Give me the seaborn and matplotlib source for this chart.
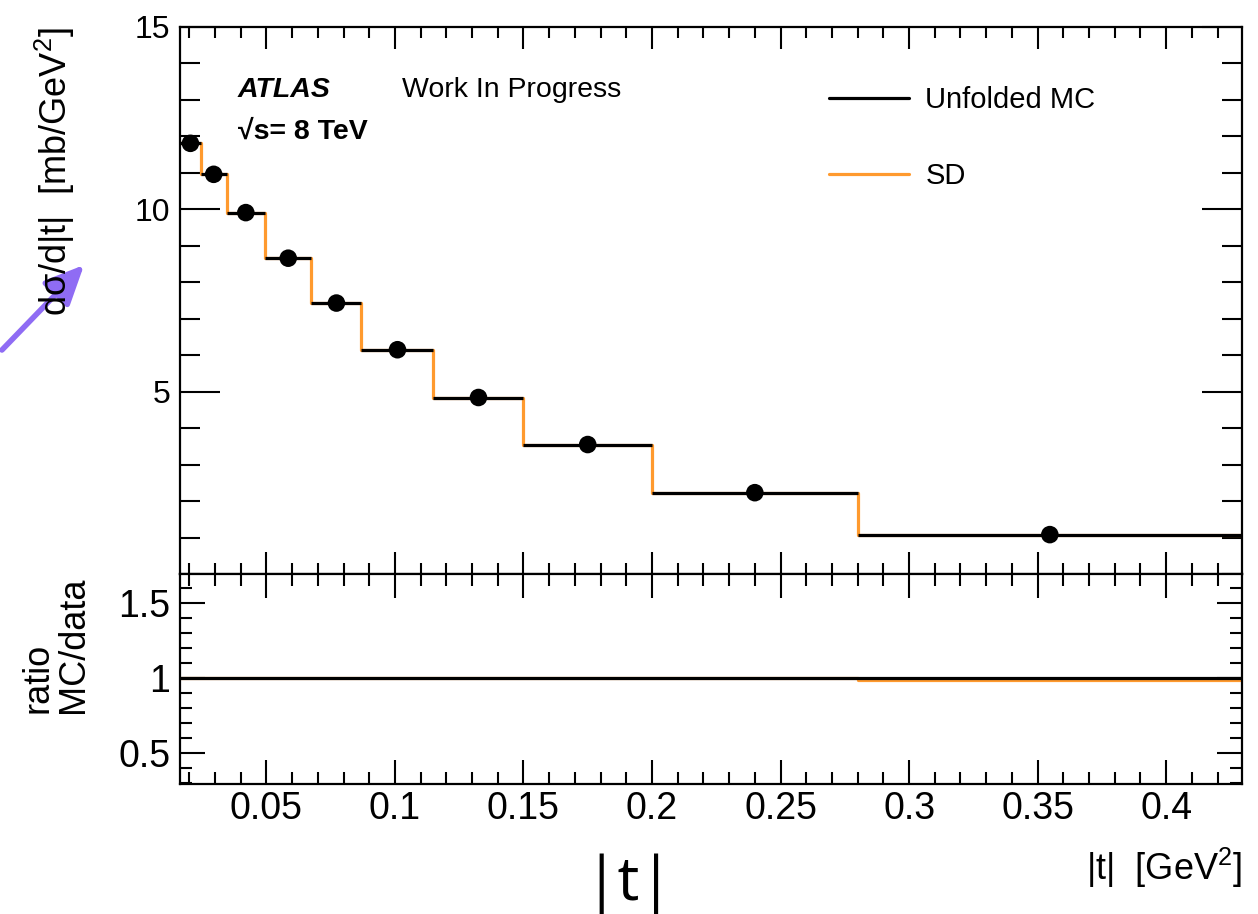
import numpy as np
import pandas as pd
import matplotlib
matplotlib.use("Agg")
import matplotlib.pyplot as plt
from matplotlib.ticker import MultipleLocator, FixedLocator, FuncFormatter
from matplotlib.lines import Line2D
import seaborn as sns

# ---------------- data ----------------
bin_edges = [0.0164, 0.0245, 0.0345, 0.0495, 0.0675, 0.087, 0.115, 0.15, 0.20, 0.28, 0.4295]
data_values = [11.81, 10.96, 9.91, 8.66, 7.43, 6.15, 4.84, 3.55, 2.23, 1.08]
mc_values = [11.81, 10.96, 9.91, 8.66, 7.43, 6.15, 4.84, 3.55, 2.23, 1.08]
sd_values = [11.81, 10.96, 9.91, 8.66, 7.43, 6.15, 4.84, 3.55, 2.23, 1.07]
mc_ratio = [1.0, 1.0, 1.0, 1.0, 1.0, 1.0, 1.0, 1.0, 1.0, 1.0]
sd_ratio = [1.0, 1.0, 1.0, 1.0, 1.0, 1.0, 1.0, 1.0, 1.0, 0.985]
legend_labels = ["Unfolded MC", "SD"]

edges = np.array(bin_edges)
centers = 0.5 * (edges[:-1] + edges[1:])
df = pd.DataFrame({"t": centers, "data": data_values, "mc": mc_values, "sd": sd_values,
                   "mc_ratio": mc_ratio, "sd_ratio": sd_ratio})

sns.set_theme(style="white")
plt.rcParams["font.family"] = ["Liberation Sans", "DejaVu Sans"]
plt.rcParams["mathtext.fontset"] = "custom"
plt.rcParams["mathtext.rm"] = "Liberation Sans"
plt.rcParams["mathtext.it"] = "Liberation Sans:italic"
plt.rcParams["mathtext.bf"] = "Liberation Sans:bold"
plt.rcParams["text.color"] = "black"
plt.rcParams["axes.labelcolor"] = "black"
plt.rcParams["xtick.color"] = "black"
plt.rcParams["ytick.color"] = "black"
plt.rcParams["xtick.labelcolor"] = "black"
plt.rcParams["ytick.labelcolor"] = "black"

W, H = 1258, 914
fig = plt.figure(figsize=(W / 100, H / 100), dpi=100)

def fx(px):
    return px / W

def fy(py):
    return 1 - py / H

left, right = 180, 1242
top, mid, bot = 27, 574, 784
ax = fig.add_axes([fx(left), fy(mid), fx(right - left), fy(top) - fy(mid)])
axr = fig.add_axes([fx(left), fy(bot), fx(right - left), fy(mid) - fy(bot)])

ORANGE = "#ff9a2e"
LW = 2.3

# ---------------- upper panel ----------------
sns.histplot(data=df, x="t", weights="sd", bins=list(bin_edges), element="step", fill=False,
             color=ORANGE, linewidth=LW, ax=ax)
ax.hlines(mc_values, edges[:-1], edges[1:], color="black", linewidth=LW, zorder=3)
sns.scatterplot(data=df, x="t", y="data", color="black", s=160, edgecolor="none",
                ax=ax, zorder=4)

ax.set_xlim(edges[0], edges[-1])
ax.set_ylim(0, 15)
ax.yaxis.set_major_locator(FixedLocator([5, 10, 15]))
ax.yaxis.set_minor_locator(MultipleLocator(1))
ax.xaxis.set_major_locator(MultipleLocator(0.05))
ax.xaxis.set_minor_locator(MultipleLocator(0.01))
ax.set_xlabel("")
ax.set_ylabel("")
ax.tick_params(axis="x", which="both", labelbottom=False)
ax.tick_params(which="both", direction="in", top=True, right=True, bottom=True, left=True,
               width=1.5, color="black", labelcolor="black")
ax.tick_params(axis="x", which="major", length=15.5)
ax.tick_params(axis="x", which="minor", length=7.8)
ax.tick_params(axis="y", which="major", length=28.5, labelsize=23, pad=7)
ax.tick_params(axis="y", which="minor", length=14.2)
for s in ax.spines.values():
    s.set_linewidth(1.6)
    s.set_color("black")

ax.text(fx(238), fy(90), "ATLAS", transform=fig.transFigure, fontsize=20.5,
        fontweight="bold", fontstyle="italic", va="center", ha="left", color="black")
ax.text(fx(402), fy(90), "Work In Progress", transform=fig.transFigure, fontsize=20.5,
        va="center", ha="left", color="black")
ax.text(fx(238), fy(132), "\u221as= 8 TeV", transform=fig.transFigure, fontsize=20.5,
        fontweight="bold", va="center", ha="left", color="black")

handles = [Line2D([0], [0], color="black", linewidth=LW),
           Line2D([0], [0], color=ORANGE, linewidth=LW)]
leg = ax.legend(handles, legend_labels, loc="upper left", bbox_to_anchor=(fx(829), fy(86)),
                bbox_transform=fig.transFigure, frameon=False, fontsize=21,
                handlelength=2.75, handletextpad=0.55, labelspacing=1.65, borderpad=0,
                borderaxespad=0)
for t in leg.get_texts():
    t.set_color("black")

fig.text(fx(55), fy(27), "d\u03c3/d|t|  [mb/GeV$^{2}$]", rotation=90, fontsize=26,
         ha="center", va="top", color="black")

# ---------------- ratio panel ----------------
sns.histplot(data=df, x="t", weights="sd_ratio", bins=list(bin_edges), element="step",
             fill=False, color=ORANGE, linewidth=LW, ax=axr)
sns.histplot(data=df, x="t", weights="mc_ratio", bins=list(bin_edges), element="step",
             fill=False, color="black", linewidth=LW, ax=axr)
axr.set_xlim(edges[0], edges[-1])
axr.set_ylim(0.293, 1.693)
axr.yaxis.set_major_locator(FixedLocator([0.5, 1.0, 1.5]))
axr.yaxis.set_minor_locator(MultipleLocator(0.1))
axr.xaxis.set_major_locator(MultipleLocator(0.05))
axr.xaxis.set_minor_locator(MultipleLocator(0.01))
fmt = FuncFormatter(lambda v, p: "%g" % round(v, 4))
axr.xaxis.set_major_formatter(fmt)
axr.yaxis.set_major_formatter(fmt)
axr.set_xlabel("")
axr.set_ylabel("")
axr.tick_params(which="both", direction="in", top=True, right=True, bottom=True, left=True,
                width=1.5, color="black", labelcolor="black")
axr.tick_params(axis="x", which="major", length=17, labelsize=27, pad=5)
axr.tick_params(axis="x", which="minor", length=8.6)
axr.tick_params(axis="y", which="major", length=18, labelsize=27, pad=7)
axr.tick_params(axis="y", which="minor", length=8.6)
for s in axr.spines.values():
    s.set_linewidth(1.6)
    s.set_color("black")

fig.text(fx(56), fy(713), "ratio\nMC/data", rotation=90, fontsize=26,
         ha="center", va="bottom", multialignment="left", linespacing=1.0, color="black")

fig.text(fx(1242), fy(868), "|t|  [GeV$^{2}$]", fontsize=26, ha="right", va="center",
         color="black")

# big annotation and arrow
fig.text(fx(629), fy(900), "|t|", fontsize=44, family=["Open Sans", "DejaVu Sans"],
         ha="center", va="baseline", color="black")
fig.patches.append(matplotlib.patches.FancyArrowPatch(
    (fx(0), fy(352)), (fx(86), fy(263)), transform=fig.transFigure,
    arrowstyle="-|>,head_length=24,head_width=11", mutation_scale=1,
    color="#8f6cf4", linewidth=4))

fig.savefig("out.png", dpi=100)
